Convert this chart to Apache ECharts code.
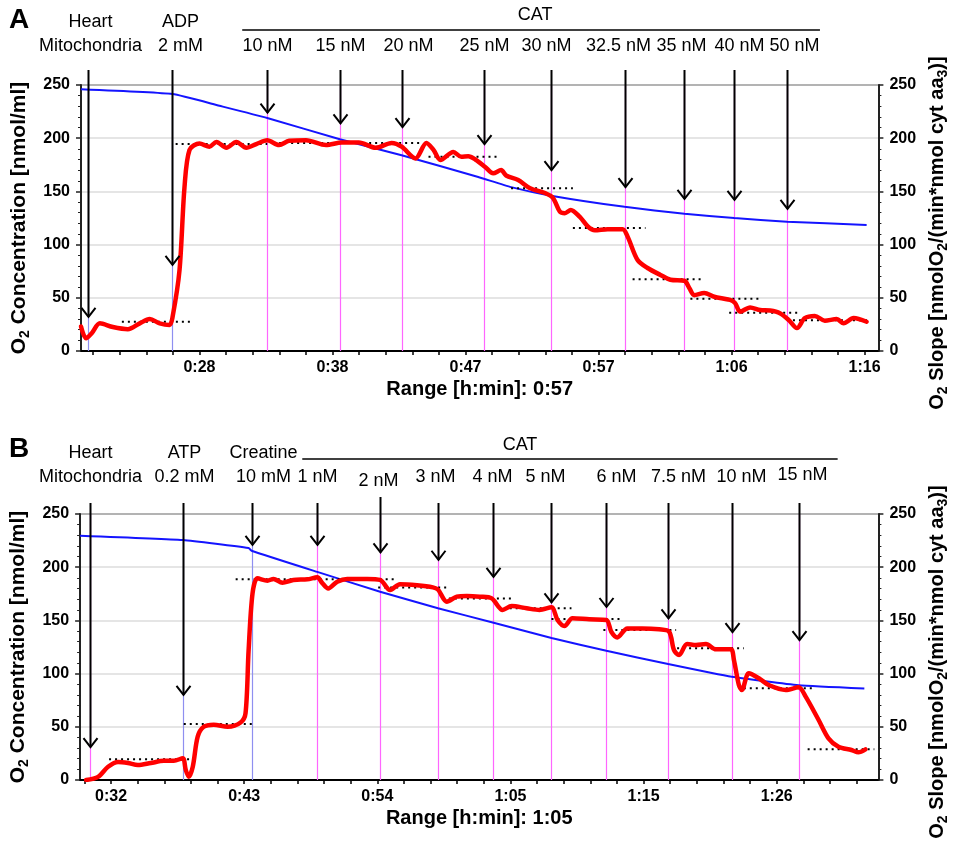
<!DOCTYPE html>
<html><head><meta charset="utf-8">
<script src="https://cdn.jsdelivr.net/npm/echarts@6/dist/echarts.min.js"></script>
<style>html,body{margin:0;padding:0;background:#fff}#c{width:958px;height:847px}</style>
</head><body><div id="c"></div><script>
const FONT = '"Liberation Sans", Arial, Helvetica, sans-serif';

// ================= PANEL A DATA =================
const xLabelsA = ['0:28', '0:38', '0:47', '0:57', '1:06', '1:16'];
const xLabelPosA = [28.4, 38.0, 47.6, 57.2, 66.8, 76.4];
const xRangeA = [19.85, 77.4];
// O2 concentration (blue) [min, nmol/ml]
const concA = [[19.85,246],[26.46,241.5],[29.84,230.5],[33.29,219],[38.53,199],[42.99,184],[48.52,163.5],[50.89,154],[53.77,146],[59.08,135.5],[63.40,129],[66.99,125],[70.80,121.5],[76.55,118.5]];
// O2 slope (red)
const slopeA = [[19.85,23],[20.21,12],[20.64,17],[21.21,26],[22.15,22.5],[23.23,20.5],[24.09,26],[24.81,30],[25.53,26],[26.24,24.5],[26.46,32],[26.96,76],[27.32,154],[27.68,189],[28.40,195],[29.12,192],[29.62,196.5],[30.34,191],[31.06,196.5],[31.78,191],[32.50,194.5],[33.29,198],[34.15,193.5],[34.87,197.5],[36.09,198],[37.53,193.5],[38.68,196],[39.90,196],[41.12,191],[42.27,195.5],[42.99,192],[43.99,181],[44.78,195.5],[45.29,189],[45.79,179.5],[46.72,187],[47.30,182.5],[47.80,183],[48.31,180],[49.02,173],[49.60,167],[50.17,170],[50.53,165],[51.40,160.7],[52.26,153],[53.34,148.5],[53.91,144],[54.41,131],[54.77,129.5],[55.20,132.5],[55.85,126],[56.43,117],[56.93,113.5],[57.86,114.5],[58.94,114.5],[59.30,107.5],[60.02,85.5],[60.74,78],[61.67,71.5],[62.39,67],[63.40,66],[63.76,59],[64.11,52.5],[64.83,54.5],[65.55,51],[66.70,48],[67.06,45],[67.42,37],[68.14,41],[68.86,38.5],[69.58,38],[70.29,35.5],[70.94,29],[71.52,21.5],[72.09,31],[72.81,33],[73.53,28.5],[74.39,30],[74.89,26],[75.61,31],[76.55,27.5]];
// dotted mean levels [start, end, value]
const levelsA = [[22.80,27.90,27.5],[26.68,33.29,194.5],[34.15,44.28,195.5],[44.93,50.10,182.5],[50.89,55.35,153],[55.35,60.59,115.5],[59.66,64.83,67.5],[63.83,68.99,49],[66.63,71.73,36],[70.80,76.77,29]];
// additions
const eventTimesA = [20.35, 26.39, 33.29, 38.53, 42.99, 48.95, 53.77, 59.08, 63.40, 66.99, 70.80];
const arrowTipsA = [32, 81, 224, 214, 210.5, 194.5, 170, 154, 143, 142, 133.5];
const eventLabelsA = ['Heart\nMitochondria', 'ADP\n2 mM', '10 nM', '15 nM', '20 nM', '25 nM', '30 nM', '32.5 nM', '35 nM', '40 nM', '50 nM'];
const eventKindsA = ['prep', 'prep', 'cat', 'cat', 'cat', 'cat', 'cat', 'cat', 'cat', 'cat', 'cat'];

// ================= PANEL B DATA =================
const xLabelsB = ['0:32', '0:43', '0:54', '1:05', '1:15', '1:26'];
const xLabelPosB = [32.6, 43.4, 54.2, 65.0, 75.8, 86.6];
const xRangeB = [30.09, 94.85];
const concB = [[30.09,229.6],[38.42,225.5],[43.76,218],[44.00,215.5],[49.33,195.6],[54.43,177],[59.12,161.5],[63.56,148],[68.33,133.5],[72.78,121.5],[77.79,109],[82.96,97],[88.38,89],[93.71,86]];
const slopeB = [[30.58,0],[31.55,3],[32.36,12.5],[33.17,17],[33.97,16],[34.78,14],[35.83,16],[36.89,18],[37.69,18],[38.42,20.5],[38.66,9.5],[38.91,3],[39.23,12.5],[39.63,40.7],[40.12,50],[40.93,52],[42.06,50],[43.11,54],[43.51,62.7],[43.76,122],[44.08,175.5],[44.48,189.5],[45.29,187.3],[45.78,189],[46.50,185.5],[47.39,188],[48.53,188.6],[49.33,190.5],[49.74,185],[50.22,180],[50.95,186.4],[51.76,189],[53.38,189],[54.43,188],[55.24,178.6],[56.04,184],[57.42,183],[58.71,181],[59.12,179],[59.84,167.6],[60.65,172.3],[61.46,173],[62.51,172.3],[63.48,170.7],[64.37,159.8],[65.10,163.5],[66.31,161.4],[67.36,159.8],[68.33,162.3],[68.82,150.4],[69.38,144.7],[70.03,152],[71.40,151],[72.78,150.4],[73.18,139.4],[73.67,134],[74.48,142.5],[75.69,142.5],[77.06,141.6],[77.87,139.4],[78.27,122],[78.68,117.5],[79.33,127.8],[80.05,126.9],[80.86,127.8],[81.67,122.8],[82.88,122.8],[83.13,112.8],[83.53,89.3],[83.77,84.6],[84.34,100.3],[85.15,95.6],[85.95,89.3],[87.33,84.6],[88.38,87.1],[88.95,78.3],[90.00,56.4],[90.80,39.2],[91.61,31.3],[92.66,28.2],[93.23,26],[93.80,28.8]];
const levelsB = [[32.44,39.63,19.4],[38.50,44.24,52.6],[42.71,55.64,188.6],[54.27,60.09,181],[59.52,65.34,170.7],[64.94,69.95,161.4],[68.33,74.07,151.3],[72.54,78.44,141],[78.52,83.93,123.8],[83.93,89.75,86.2],[89.11,94.52,29]];
const eventTimesB = [30.90, 38.42, 44.00, 49.33, 54.43, 59.12, 63.56, 68.33, 72.78, 77.79, 82.96, 88.38];
const arrowTipsB = [31, 80, 221, 221, 214, 207, 191, 167, 162.6, 152, 139, 131.5];
const eventLabelsB = ['Heart\nMitochondria', 'ATP\n0.2 mM', 'Creatine\n10 mM', '1 nM', '2 nM', '3 nM', '4 nM', '5 nM', '6 nM', '7.5 nM', '10 nM', '15 nM'];
const eventKindsB = ['cat', 'prep', 'prep', 'cat', 'cat', 'cat', 'cat', 'cat', 'cat', 'cat', 'cat', 'cat'];

// ================= STYLE =================
const labelDxA = [2, 8, 0, 0, 6, 0, -5, -7, -3, 5, 7];
const labelDxB = [0, 1, 11, 0, -2, -3, -1, -6, 10, 10, 9, 3];
const labelDyB = [0, 0, 0, 0, 4, 0, 0, 0, 0, 0, 0, -2];
const lineColor = { prep: '#8f8ff0', cat: '#ff66ff' };
const panelStyle = [
  { arrowTop: 15, labelBottom: 27, bracketY: 55, catY: 70, startDx: -25, endDx: 33, textDx: 4, dy: null },
  { arrowTop: 11, labelBottom: 25, bracketY: 55, catY: 69, startDx: -15, endDx: 39, textDx: -50, dy: labelDyB }
];

function minorTicks(pos, sub, range) {
  const step = (pos[1] - pos[0]) / sub;
  const out = [];
  let k = Math.ceil((range[0] - pos[0]) / step - 1e-9);
  while (true) {
    const v = +(pos[0] + k * step).toFixed(4);
    if (v > range[1] + 1e-9) break;
    out.push(v);
    k++;
  }
  return out;
}

function xAxisCfg(gi, range, pos, labels, name) {
  return {
    type: 'value', gridIndex: gi, min: range[0], max: range[1],
    name: name, nameLocation: 'middle', nameGap: 28,
    nameTextStyle: { fontFamily: FONT, fontWeight: 'bold', fontSize: 20, color: '#000' },
    axisLine: { show: true, onZero: false, lineStyle: { color: '#000', width: 2 } },
    axisTick: { show: true, customValues: minorTicks(pos, 5, range), length: 4, lineStyle: { color: '#000', width: 1.5 } },
    axisLabel: {
      customValues: pos, margin: 9, fontFamily: FONT, fontWeight: 'bold', fontSize: 16, color: '#000',
      formatter: function (v) {
        let best = 0;
        for (let i = 1; i < pos.length; i++) if (Math.abs(pos[i] - v) < Math.abs(pos[best] - v)) best = i;
        return labels[best];
      }
    },
    splitLine: { show: false }
  };
}

function richName(size) {
  return {
    m: { fontFamily: FONT, fontWeight: 'bold', fontSize: size, lineHeight: 26, color: '#000' },
    s: { fontFamily: FONT, fontWeight: 'bold', fontSize: 14, lineHeight: 14, verticalAlign: 'bottom', color: '#000' }
  };
}

function yAxisCfg(gi, side) {
  const left = side === 'left';
  return {
    type: 'value', gridIndex: gi, position: side, min: 0, max: 250, interval: 50,
    name: left ? '{m|O}{s|2}{m| Concentration [nmol/ml]}' : '{m|O}{s|2}{m| Slope [nmolO}{s|2}{m|/(min*nmol cyt aa}{s|3}{m|)]}',
    nameLocation: 'middle', nameRotate: 90, nameGap: left ? 47 : 41,
    nameTextStyle: { rich: richName(left ? 21 : 20), padding: left ? 0 : [0, 30, 0, 0] },
    axisLine: { show: true, lineStyle: { color: '#222', width: 2 } },
    axisTick: { show: true, length: 5, lineStyle: { color: '#222', width: 1.5 } },
    minorTick: { show: true, splitNumber: 5, length: 3, lineStyle: { color: '#222', width: 1 } },
    axisLabel: { margin: 11, fontFamily: FONT, fontWeight: 'bold', fontSize: 16, color: '#000' },
    splitLine: left ? { show: true, lineStyle: { color: ['#dcdcdc', '#dcdcdc', '#dcdcdc', '#dcdcdc', '#dcdcdc', '#9a9a9a'], width: 1.5 } } : { show: false }
  };
}

function panelSeries(p, conc, slope, levels, times, tips, labels, kinds, dxs) {
  const xi = p, yl = 2 * p, yr = 2 * p + 1, st = panelStyle[p];
  const evData = times.map((t, i) => [t, tips[i]]);
  const firstCat = labels.findIndex(l => / nM$/.test(l));
  return [
    { // vertical event marker lines
      type: 'custom', coordinateSystem: 'cartesian2d', xAxisIndex: xi, yAxisIndex: yr, z: 1, silent: true,
      data: evData, encode: { x: 0, y: 1 },
      renderItem: function (params, api) {
        const a = api.coord([api.value(0), 0]), b = api.coord([api.value(0), 250]);
        const x = Math.round(a[0]) + 0.5;
        return { type: 'line', shape: { x1: x, y1: a[1], x2: x, y2: b[1] }, style: { stroke: lineColor[kinds[params.dataIndex]], lineWidth: 1.2 } };
      }
    },
    { type: 'line', xAxisIndex: xi, yAxisIndex: yl, data: conc, symbol: 'none', smooth: 0.15, z: 2, silent: true,
      lineStyle: { color: '#1414ff', width: 2 } },
    { // dotted mean levels
      type: 'custom', coordinateSystem: 'cartesian2d', xAxisIndex: xi, yAxisIndex: yr, z: 3, silent: true,
      data: levels, encode: { x: [0, 1], y: 2 },
      renderItem: function (params, api) {
        const a = api.coord([api.value(0), api.value(2)]), b = api.coord([api.value(1), api.value(2)]);
        return { type: 'line', shape: { x1: a[0], y1: a[1], x2: b[0], y2: b[1] }, style: { stroke: '#000', lineWidth: 2, lineDash: [2, 4] } };
      }
    },
    { type: 'line', xAxisIndex: xi, yAxisIndex: yr, data: slope, symbol: 'none', smooth: 0.3, z: 4, silent: true,
      lineStyle: { color: '#ff0000', width: 4.5, cap: 'round', join: 'round' } },
    { // arrows and addition labels
      type: 'custom', coordinateSystem: 'cartesian2d', xAxisIndex: xi, yAxisIndex: yr, z: 6, silent: true,
      data: evData, encode: { x: 0, y: 1 },
      renderItem: function (params, api) {
        const i = params.dataIndex, cs = params.coordSys;
        const tip = api.coord([api.value(0), api.value(1)]);
        const x = Math.round(tip[0]) + 0.5, ty = tip[1];
        const dy = st.dy ? st.dy[i] : 0;
        return { type: 'group', children: [
          { type: 'line', shape: { x1: x, y1: cs.y - st.arrowTop - (dy > 0 ? 6 : 0), x2: x, y2: ty }, style: { stroke: '#000', lineWidth: 2 } },
          { type: 'polyline', shape: { points: [[x - 7, ty - 9], [x, ty], [x + 7, ty - 9]] }, style: { stroke: '#000', lineWidth: 2, fill: null } },
          { type: 'text', style: { text: labels[i], x: x + dxs[i], y: cs.y - st.labelBottom + dy, align: 'center', verticalAlign: 'bottom',
            fontFamily: FONT, fontSize: 18, lineHeight: 24, fill: '#000' } }
        ] };
      }
    },
    { // CAT bracket
      type: 'custom', coordinateSystem: 'cartesian2d', xAxisIndex: xi, yAxisIndex: yr, z: 6, silent: true,
      data: [[times[firstCat], times[times.length - 1]]], encode: { x: [0, 1] },
      renderItem: function (params, api) {
        const cs = params.coordSys;
        const a = api.coord([api.value(0), 0]), b = api.coord([api.value(1), 0]);
        const x1 = a[0] + st.startDx, x2 = b[0] + st.endDx, y = cs.y - st.bracketY;
        return { type: 'group', children: [
          { type: 'line', shape: { x1: x1, y1: y, x2: x2, y2: y }, style: { stroke: '#000', lineWidth: 1.5 } },
          { type: 'text', style: { text: 'CAT', x: (x1 + x2) / 2 + st.textDx, y: cs.y - st.catY, align: 'center', verticalAlign: 'middle',
            fontFamily: FONT, fontSize: 18, fill: '#000' } }
        ] };
      }
    }
  ];
}

const chart = echarts.init(document.getElementById('c'), null, { renderer: 'canvas' });
chart.setOption({
  animation: false,
  backgroundColor: '#fff',
  grid: [
    { left: 81, top: 85, width: 801, height: 266, containLabel: false },
    { left: 79, top: 514, width: 801, height: 266, containLabel: false }
  ],
  xAxis: [
    xAxisCfg(0, xRangeA, xLabelPosA, xLabelsA, 'Range [h:min]: 0:57'),
    xAxisCfg(1, xRangeB, xLabelPosB, xLabelsB, 'Range [h:min]: 1:05')
  ],
  yAxis: [yAxisCfg(0, 'left'), yAxisCfg(0, 'right'), yAxisCfg(1, 'left'), yAxisCfg(1, 'right')],
  graphic: [
    { type: 'text', left: 9, top: 6, style: { text: 'A', fontFamily: FONT, fontWeight: 'bold', fontSize: 28, fill: '#000' } },
    { type: 'text', left: 9, top: 435, style: { text: 'B', fontFamily: FONT, fontWeight: 'bold', fontSize: 28, fill: '#000' } }
  ],
  series: [].concat(
    panelSeries(0, concA, slopeA, levelsA, eventTimesA, arrowTipsA, eventLabelsA, eventKindsA, labelDxA),
    panelSeries(1, concB, slopeB, levelsB, eventTimesB, arrowTipsB, eventLabelsB, eventKindsB, labelDxB)
  )
});
</script></body></html>
